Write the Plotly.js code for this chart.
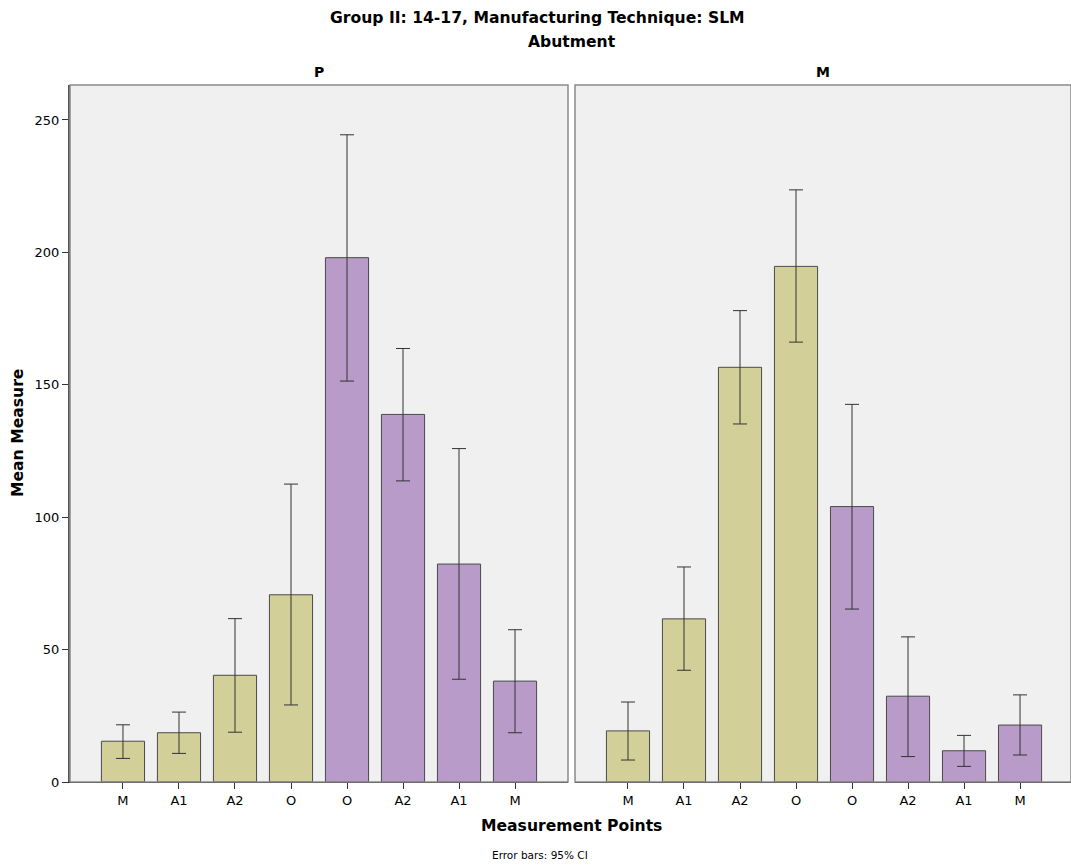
<!DOCTYPE html>
<html>
<head>
<meta charset="utf-8">
<script src="https://cdn.plot.ly/plotly-3.0.1.min.js"></script>
<style>html,body{margin:0;padding:0;background:#fff;}#chart{width:1071px;height:866px;}</style>
</head>
<body>
<div id="chart"></div>
<script>
// Category labels along each panel
const tickLabels = ["M", "A1", "A2", "O", "O", "A2", "A1", "M"];
const positions = [0, 1, 2, 3, 4, 5, 6, 7];
const groups = ["khaki", "khaki", "khaki", "khaki", "purple", "purple", "purple", "purple"];

// Panel P
const pMean  = [15.4, 18.6, 40.3, 70.7, 198.0, 138.8, 82.3, 38.1];
const pUpper = [21.6, 26.4, 61.7, 112.5, 244.4, 163.7, 125.9, 57.5];
const pLower = [8.9, 10.8, 18.8, 29.1, 151.4, 113.7, 38.8, 18.6];

// Panel M
const mMean  = [19.3, 61.6, 156.6, 194.7, 104.0, 32.4, 11.8, 21.5];
const mUpper = [30.2, 81.2, 178.0, 223.6, 142.6, 54.8, 17.6, 32.9];
const mLower = [8.3, 42.2, 135.2, 166.1, 65.3, 9.6, 5.9, 10.2];

const colorMap = {khaki: "#D3CF98", purple: "#B89BC8"};
const barColors = groups.map(g => colorMap[g]);

function barTrace(means, upper, lower, xa, ya) {
  return {
    type: "bar",
    x: positions,
    y: means,
    xaxis: xa, yaxis: ya,
    width: 0.77,
    marker: {color: barColors, line: {color: "#4a4a4a", width: 1}},
    error_y: {
      type: "data", symmetric: false,
      array: upper.map((u, i) => u - means[i]),
      arrayminus: lower.map((l, i) => means[i] - l),
      color: "#333", thickness: 1, width: 7
    },
    hoverinfo: "skip",
    showlegend: false
  };
}

const data = [
  barTrace(pMean, pUpper, pLower, "x", "y"),
  barTrace(mMean, mUpper, mLower, "x2", "y2")
];

const font = {family: "DejaVu Sans, Verdana, sans-serif", color: "#000"};
const yRange = [0, 263.2];

const xCommon = {
  tickmode: "array", tickvals: positions, ticktext: tickLabels,
  ticks: "outside", ticklen: 6, tickcolor: "#333", tickwidth: 1,
  showgrid: false, zeroline: false,
  showline: true, linecolor: "#222", linewidth: 1,
  tickfont: {family: font.family, size: 13, color: "#000"},
  fixedrange: true
};

const layout = {
  width: 1071, height: 866,
  margin: {l: 70, r: 0, t: 85, b: 84},
  paper_bgcolor: "#fff",
  plot_bgcolor: "#F0F0F0",
  bargap: 0,
  xaxis: Object.assign({}, xCommon, {domain: [0, 0.4975], range: [-0.946, 7.946], anchor: "y"}),
  xaxis2: Object.assign({}, xCommon, {domain: [0.5045, 1], range: [-0.946, 7.91], anchor: "y2"}),
  yaxis: {
    range: yRange, domain: [0, 1], anchor: "x",
    tickvals: [0, 50, 100, 150, 200, 250],
    ticks: "outside", ticklen: 6, tickcolor: "#333",
    showgrid: false, zeroline: false,
    showline: true, linecolor: "#555", linewidth: 2,
    tickfont: {family: font.family, size: 13, color: "#000"},
    fixedrange: true
  },
  yaxis2: {
    range: yRange, domain: [0, 1], anchor: "x2",
    showticklabels: false, ticks: "",
    showgrid: false, zeroline: false,
    showline: false, fixedrange: true
  },
  shapes: [
    {type: "rect", xref: "x domain", yref: "y domain", x0: 0, x1: 1, y0: 0, y1: 1,
     line: {color: "#8a8a8a", width: 1.5}, fillcolor: "rgba(0,0,0,0)", layer: "above"},
    {type: "rect", xref: "x2 domain", yref: "y2 domain", x0: 0, x1: 1, y0: 0, y1: 1,
     line: {color: "#8a8a8a", width: 1.5}, fillcolor: "rgba(0,0,0,0)", layer: "above"}
  ],
  annotations: [
    {text: "<b>Group II: 14-17, Manufacturing Technique: SLM</b>", xref: "paper", yref: "paper",
     x: (537 - 70) / 1001, y: (782 - 18) / 697, xanchor: "center", yanchor: "middle",
     showarrow: false, font: {family: font.family, size: 15.6, color: "#000"}},
    {text: "<b>Abutment</b>", xref: "paper", yref: "paper",
     x: (572 - 70) / 1001, y: (782 - 42) / 697, xanchor: "center", yanchor: "middle",
     showarrow: false, font: {family: font.family, size: 15.6, color: "#000"}},
    {text: "<b>P</b>", xref: "x domain", yref: "paper", x: 0.5, y: (782 - 72) / 697,
     xanchor: "center", yanchor: "middle", showarrow: false,
     font: {family: font.family, size: 14, color: "#000"}},
    {text: "<b>M</b>", xref: "x2 domain", yref: "paper", x: 0.5, y: (782 - 72) / 697,
     xanchor: "center", yanchor: "middle", showarrow: false,
     font: {family: font.family, size: 14, color: "#000"}},
    {text: "<b>Mean Measure</b>", xref: "paper", yref: "paper",
     x: (18 - 70) / 1001, y: (782 - 433) / 697, xanchor: "center", yanchor: "middle",
     textangle: -90, showarrow: false, font: {family: font.family, size: 15.6, color: "#000"}},
    {text: "<b>Measurement Points</b>", xref: "paper", yref: "paper",
     x: (571 - 70) / 1001, y: (782 - 826) / 697, xanchor: "center", yanchor: "middle",
     showarrow: false, font: {family: font.family, size: 15.6, color: "#000"}},
    {text: "Error bars: 95% CI", xref: "paper", yref: "paper",
     x: (540 - 70) / 1001, y: (782 - 855) / 697, xanchor: "center", yanchor: "middle",
     showarrow: false, font: {family: font.family, size: 10.5, color: "#000"}}
  ]
};

Plotly.newPlot("chart", data, layout, {displayModeBar: false, staticPlot: true});
</script>
</body>
</html>
